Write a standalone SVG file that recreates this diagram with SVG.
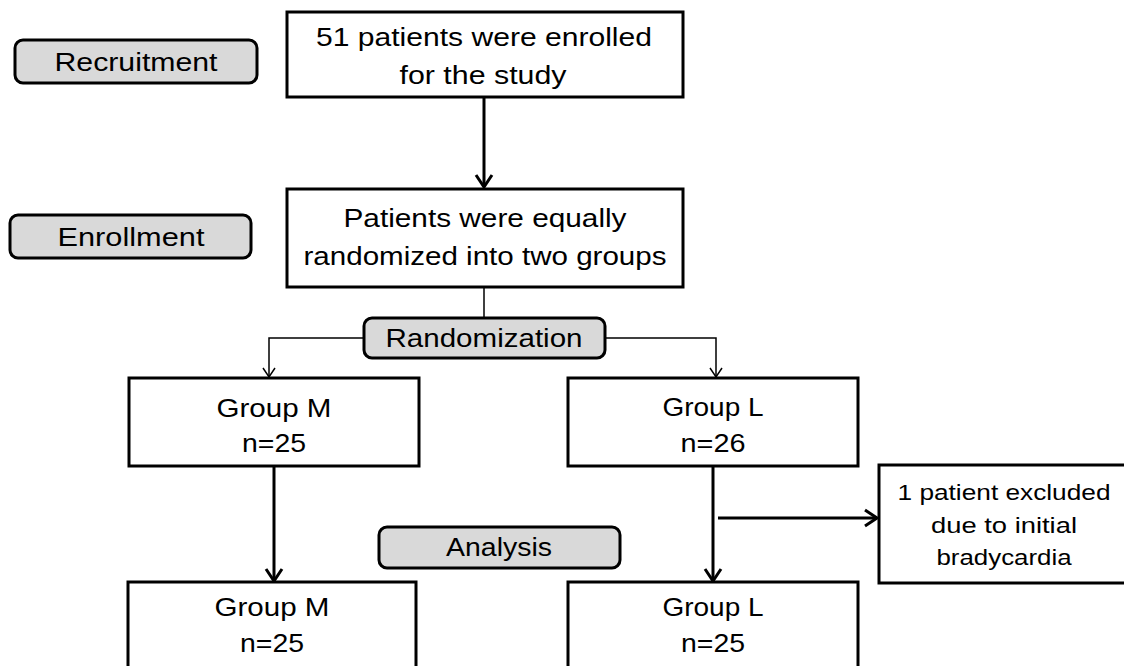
<svg xmlns="http://www.w3.org/2000/svg" width="1124" height="666" viewBox="0 0 1124 666">
<style>
.box{fill:#fff;stroke:#000;stroke-width:3}
.stage{fill:#d9d9d9;stroke:#000;stroke-width:3}
.t{font-family:"Liberation Sans",Arial,sans-serif;font-size:26px;fill:#000;text-anchor:middle}
.s{font-size:22px}
.thick{fill:none;stroke:#000;stroke-width:3}
.thin{fill:none;stroke:#000;stroke-width:1.5}
</style>
<defs>
<marker id="ah" markerUnits="userSpaceOnUse" viewBox="0 0 20 20" refX="18" refY="10" markerWidth="20" markerHeight="20" orient="auto">
<path d="M6,2 L18,10 L6,18" fill="none" stroke="#000" stroke-width="3"/>
</marker>
<marker id="ahs" markerUnits="userSpaceOnUse" viewBox="0 0 16 16" refX="14" refY="8" markerWidth="16" markerHeight="16" orient="auto">
<path d="M5,2 L14,8 L5,14" fill="none" stroke="#000" stroke-width="1.5"/>
</marker>
</defs>
<rect width="1124" height="666" fill="#fff"/>
<g id="connectors">
<line class="thick" x1="484" y1="97" x2="484" y2="187" marker-end="url(#ah)"/>
<line class="thin" x1="484" y1="287" x2="484" y2="318"/>
<polyline class="thin" points="364,338 269,338 269,377" marker-end="url(#ahs)"/>
<polyline class="thin" points="605,338 716,338 716,377" marker-end="url(#ahs)"/>
<line class="thick" x1="274" y1="466" x2="274" y2="581" marker-end="url(#ah)"/>
<line class="thick" x1="713" y1="466" x2="713" y2="581" marker-end="url(#ah)"/>
<line class="thick" x1="718" y1="518" x2="877" y2="518" marker-end="url(#ah)"/>
</g>
<g id="recruitment">
<rect class="stage" x="15" y="40" width="242" height="43" rx="8"/>
<text class="t" x="136" y="71" textLength="163" lengthAdjust="spacingAndGlyphs">Recruitment</text>
</g>
<g id="enrolled">
<rect class="box" x="287" y="12" width="396" height="85"/>
<text class="t" x="484" y="46" textLength="336" lengthAdjust="spacingAndGlyphs">51 patients were enrolled</text>
<text class="t" x="483" y="84" textLength="167" lengthAdjust="spacingAndGlyphs">for the study</text>
</g>
<g id="enrollment">
<rect class="stage" x="10" y="215" width="241" height="43" rx="8"/>
<text class="t" x="131" y="246" textLength="147" lengthAdjust="spacingAndGlyphs">Enrollment</text>
</g>
<g id="randomized">
<rect class="box" x="287" y="189" width="396" height="98"/>
<text class="t" x="485" y="227" textLength="283" lengthAdjust="spacingAndGlyphs">Patients were equally</text>
<text class="t" x="485" y="265" textLength="363" lengthAdjust="spacingAndGlyphs">randomized into two groups</text>
</g>
<g id="randomization">
<rect class="stage" x="364" y="318" width="241" height="40" rx="8"/>
<text class="t" x="484" y="347" textLength="197" lengthAdjust="spacingAndGlyphs">Randomization</text>
</g>
<g id="groupM">
<rect class="box" x="129" y="378" width="290" height="88"/>
<text class="t" x="274" y="417" textLength="115" lengthAdjust="spacingAndGlyphs">Group M</text>
<text class="t" x="274" y="452" textLength="64" lengthAdjust="spacingAndGlyphs">n=25</text>
</g>
<g id="groupL">
<rect class="box" x="568" y="378" width="290" height="88"/>
<text class="t" x="713" y="416" textLength="101" lengthAdjust="spacingAndGlyphs">Group L</text>
<text class="t" x="713" y="452" textLength="65" lengthAdjust="spacingAndGlyphs">n=26</text>
</g>
<g id="excluded">
<rect class="box" x="879" y="465" width="250" height="118"/>
<text class="t s" x="1004" y="500" textLength="213" lengthAdjust="spacingAndGlyphs">1 patient excluded</text>
<text class="t s" x="1004" y="533" textLength="146" lengthAdjust="spacingAndGlyphs">due to initial</text>
<text class="t s" x="1004" y="565" textLength="135" lengthAdjust="spacingAndGlyphs">bradycardia</text>
</g>
<g id="analysis">
<rect class="stage" x="379" y="527" width="241" height="41" rx="8"/>
<text class="t" x="499" y="556" textLength="106" lengthAdjust="spacingAndGlyphs">Analysis</text>
</g>
<g id="groupM2">
<rect class="box" x="128" y="582" width="288" height="100"/>
<text class="t" x="272" y="616" textLength="115" lengthAdjust="spacingAndGlyphs">Group M</text>
<text class="t" x="272" y="652" textLength="64" lengthAdjust="spacingAndGlyphs">n=25</text>
</g>
<g id="groupL2">
<rect class="box" x="568" y="582" width="290" height="100"/>
<text class="t" x="713" y="616" textLength="101" lengthAdjust="spacingAndGlyphs">Group L</text>
<text class="t" x="713" y="652" textLength="64" lengthAdjust="spacingAndGlyphs">n=25</text>
</g>
</svg>
